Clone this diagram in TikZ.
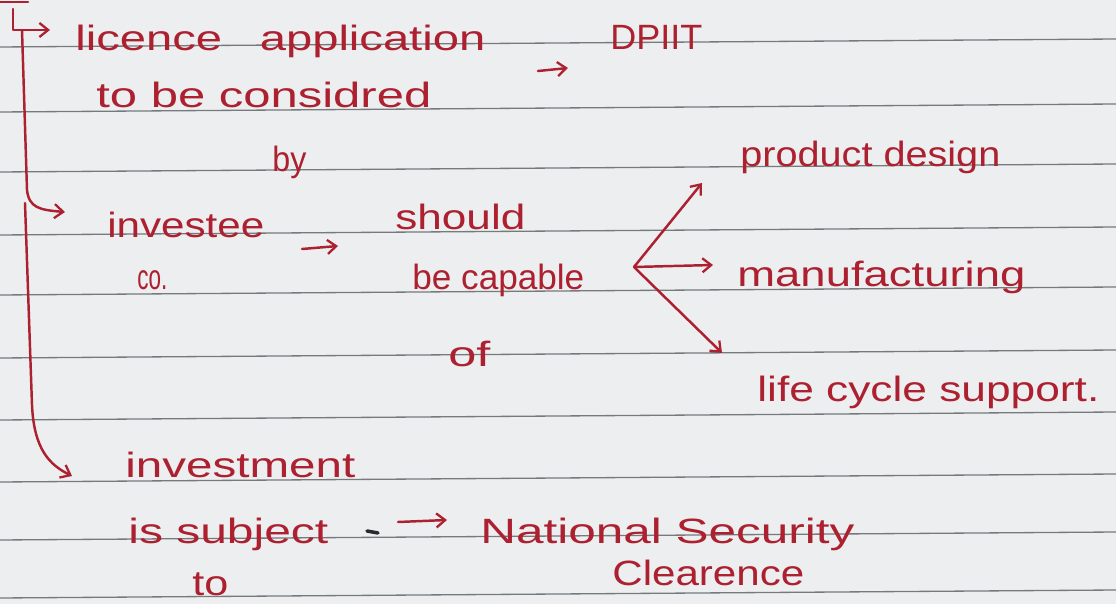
\documentclass[tikz,border=0pt]{standalone}
\usepackage{fontspec}
\setmainfont{Liberation Sans}
\usepackage{graphicx}
\usetikzlibrary{arrows.meta}
\definecolor{paper}{RGB}{236,238,239}
\definecolor{rule}{RGB}{118,122,125}
\definecolor{ink}{RGB}{172,32,48}
\definecolor{pencil}{RGB}{40,40,45}
\newlength\pxu
\setlength\pxu{0.02cm}
\newcommand\hw[2]{\resizebox{#1\pxu}{\height}{\fontsize{20}{24}\selectfont #2}}
\tikzset{
  txt/.style={anchor=base west, inner sep=0pt, text=ink},
  pen/.style={draw=ink, line width=1.4pt, line cap=round, line join=round},
  tip/.style={-{Straight Barb[length=5pt,width=8pt,line width=1.3pt]}},
  ruling/.style={draw=rule, line width=0.75pt}
}
\begin{document}
\begin{tikzpicture}[x=0.02cm,y=-0.02cm]
\useasboundingbox (0,0) rectangle (1116,604);
\fill[paper] (0,0) rectangle (1116,604);
% ruled lines
\foreach \yy in {47,112,172,235,295,358,420,482,540,598}
  \draw[ruling] (0,\yy) -- (1116,\yy-8);

% texts
\node[txt] (lic) at (75,51) {\hw{410}{licence\hspace{0.8em}application}};
\node[txt] (dpiit) at (610,50) {\hw{92}{DPIIT}};
\node[txt] (cons) at (96,108) {\hw{335}{to be considred}};
\node[txt] (by) at (272,172) {\hw{34}{by}};
\node[txt] (inv) at (107,238) {\hw{157}{investee}};
\node[txt] (co) at (137,290) {\hw{30}{co.}};
\node[txt] (should) at (395,230) {\hw{130}{should}};
\node[txt] (capable) at (412,290) {\hw{172}{be capable}};
\node[txt] (of) at (448,367) {\hw{42}{of}};
\node[txt] (pd) at (740,167) {\hw{260}{product design}};
\node[txt] (mf) at (737,287) {\hw{288}{manufacturing}};
\node[txt] (lc) at (757,402) {\hw{342}{life cycle support.}};
\node[txt] (invm) at (125,478) {\hw{230}{investment}};
\node[txt] (subj) at (128,543) {\hw{200}{is subject}};
\node[txt] (to) at (192,595) {\hw{36}{to}};
\node[txt] (nat) at (480,543) {\hw{374}{National Security}};
\node[txt] (clr) at (612,585) {\hw{192}{Clearence}};

% bracket and arrows
\coordinate (r0) at (0,2); \coordinate (r1) at (28,2);
\draw[pen] (r0) -- (r1);
\coordinate (t0) at (13,9); \coordinate (t1) at (50,30);
\draw[pen,tip] (t0) |- (t1);
\coordinate (m0) at (22,30); \coordinate (m1) at (65,212);
\draw[pen,tip] (m0) -- (27,190) .. controls (29,208) and (40,210) .. (m1);
\coordinate (b0) at (25,203); \coordinate (b1) at (72,476);
\draw[pen,tip] (b0) -- (32,405) .. controls (34,450) and (50,465) .. (b1);

% considered -> DPIIT
\coordinate (c0) at (538,71); \coordinate (c1) at (568,68);
\draw[pen,tip] (c0) -- (c1);
% investee -> should
\coordinate (i0) at (302,249); \coordinate (i1) at (338,246);
\draw[pen,tip] (i0) -- (i1);
% branches
\coordinate (v) at (634,267);
\coordinate (pdE) at (702,183);
\coordinate (mfE) at (713,265);
\coordinate (lcE) at (722,353);
\draw[pen,tip] (v) -- (pdE);
\draw[pen,tip] (v) -- (mfE);
\draw[pen,tip] (v) -- (lcE);
% subject -> national security
\coordinate (d0) at (367,531); \coordinate (d1) at (378,533);
\draw[draw=pencil,line width=2pt,line cap=round] (d0) -- (d1);
\coordinate (s0) at (398,522); \coordinate (s1) at (447,520);
\draw[pen,tip] (s0) -- (s1);
\end{tikzpicture}
\end{document}
